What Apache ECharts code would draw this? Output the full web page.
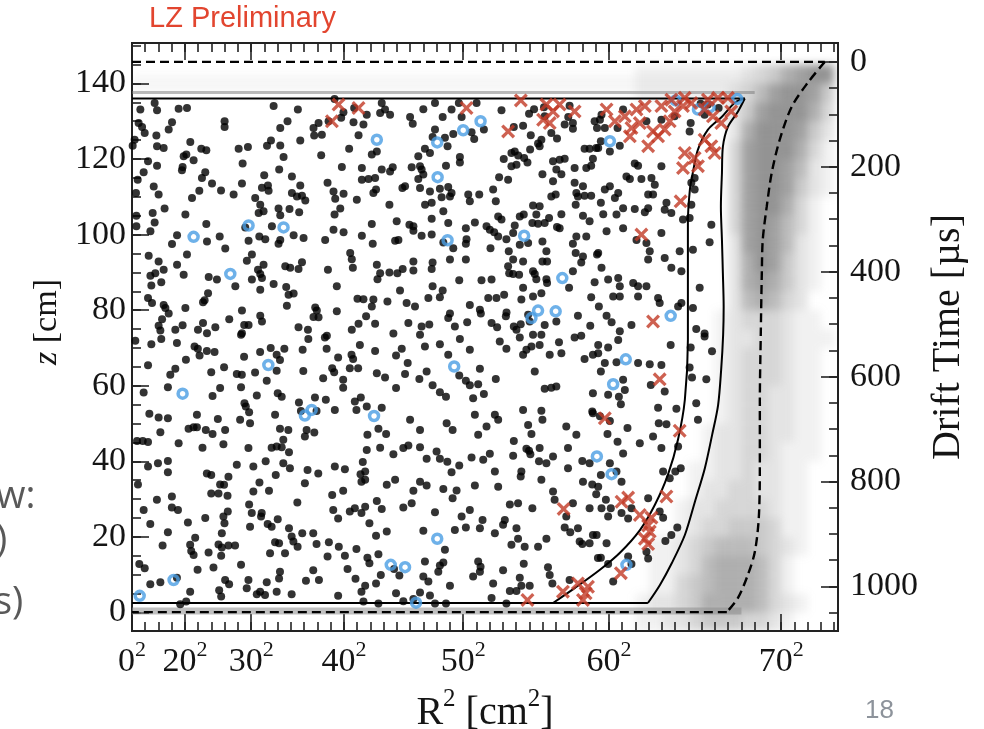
<!DOCTYPE html>
<html>
<head>
<meta charset="utf-8">
<script src="https://cdn.jsdelivr.net/npm/echarts@6/dist/echarts.min.js"></script>
<style>
  html, body { margin: 0; padding: 0; background: #fff; }
  #wrap { position: relative; width: 984px; height: 729px; overflow: hidden; }
  #cloud, #main { position: absolute; left: 0; top: 0; width: 984px; height: 729px; }
  #cloud { filter: blur(4px); clip-path: inset(43px 146px 98px 132px); }
</style>
</head>
<body>
<div id="wrap"><div id="cloud"></div><div id="main"></div></div>
<script>
// ---------- axis ranges and tick labels ----------
const R2_RANGE = [0, 5329];           // R^2 [cm^2], 0 .. 73^2
const Z_RANGE = [-4.9, 150.7];        // z [cm]
const DT_RANGE = [-36, 1085];         // drift time [us], top .. bottom
const r2TickRoots = [0, 20, 30, 40, 50, 60, 70];
const zTickLabels = [0, 20, 40, 60, 80, 100, 120, 140];
const dtTickLabels = [0, 200, 400, 600, 800, 1000];

// ---------- boundary curves [R^2, z] ----------
const solidTop = [[0, 136], [4625, 136]];
const solidOuter = [[4625, 136], [4573, 132.5], [4498, 128.5], [4460, 123.2], [4453, 116.3], [4445, 107.4], [4453, 98.6], [4460, 89.8], [4466, 81.0], [4462, 73.5], [4447, 64.2], [4424, 54.9], [4379, 47.0], [4324, 38.2], [4249, 29.3], [4173, 20.5], [4075, 13.1], [3985, 7.3], [3894, 2.5]];
const solidInner = [[4625, 136], [4550, 134.9], [4453, 131.2], [4346, 127.7], [4271, 122.4], [4233, 116.3], [4211, 111.9], [4196, 103.1], [4196, 89.9], [4196, 72.2], [4173, 56.3], [4121, 45.7], [4045, 36.4], [3947, 28.5], [3834, 21.8], [3683, 15.8], [3532, 11.3], [3344, 6.5], [3178, 2.5]];
const solidBottom = [[3894, 2.5], [0, 2.5]];
const dashedTop = [[0, 145.7], [5229, 145.7]];
const dashedWall = [[5229, 145.7], [5101, 140.2], [4979, 133.8], [4889, 125.1], [4829, 116.4], [4791, 107.4], [4761, 98.6], [4754, 89.9], [4746, 73.5], [4739, 55.7], [4739, 38.3], [4731, 25.0], [4701, 16.0], [4648, 9.9], [4573, 3.8], [4490, 0.1]];
const dashedBottom = [[4490, 0.1], [0, 0.1]];

// dense event bands at the gate and cathode
const gateBand = [[0, 137.6], [4700, 137.6]];
const cathodeBand = [[0, 0.4], [4600, 0.4]];

// ---------- wall event density, rows from z=150 down in 5 cm steps, columns from R^2=3800 in 100 cm^2 steps ----------
const wallR2Start = 3800, wallR2Step = 100, wallZTop = 150, wallZStep = 5;
const wallDensity = [
  "000000000000000",
  "111111112346788",
  "111111123578874",
  "000000124788863",
  "000000026888742",
  "000000037888631",
  "000000037887521",
  "000000037887421",
  "000000037886310",
  "000000037875310",
  "000000027875210",
  "000000026874210",
  "000000026764210",
  "000000025653200",
  "000000123332110",
  "000000122332111",
  "000000123332110",
  "000000123332110",
  "000000123322110",
  "000000123322110",
  "000001223322110",
  "000001223321110",
  "000011223221100",
  "000012233221100",
  "000122333321100",
  "000123344431100",
  "011234555432100",
  "011235666531000",
  "011345666531000",
  "122346666532100",
  "112234443321000"
];

// ---------- events [R^2, z] ----------
const blackUpperLeft = [
[171,134.8],[63,133.1],[189,132.9],[352,133.3],[415,133.5],[1069,134.0],[1252,133.1],[1529,135.9],[1596,132.4],[1677,133.5],
[50,129.5],[76,128.5],[96,126.9],[302,129.7],[277,127.8],[699,130.0],[699,128.5],[1119,128.2],[1174,130.0],[1370,128.2],[1375,126.2],[1408,129.5],[1433,126.4],[1484,130.0],[1579,130.9],[1672,129.7],
[20,125.1],[5,123.5],[184,126.2],[189,123.4],[239,122.9],[440,124.5],[523,122.7],[561,122.3],[805,122.7],[875,123.2],[1019,123.5],[1049,124.9],[1119,123.6],[1270,124.9],[1144,120.5],
[390,120.7],[410,121.2],[382,117.9],[377,117.0],[465,119.7],[121,119.4],[189,118.2],[835,118.8],[1428,121.0],[1639,122.7],[1710,126.3],
[553,116.5],[528,115.0],[604,113.5],[508,111.6],[672,111.7],[767,110.6],[830,113.5],[998,115.7],[1111,117.2],[1207,115.4],[1026,113.0],[981,112.4],[1031,111.6],[1270,113.0],[1476,113.7],[1584,117.9],
[43,114.5],[88,116.5],[164,112.7],[201,110.6],[30,111.0],[246,106.9],[453,109.7],[403,105.3],[930,109.7],[968,107.9],[993,106.2],[956,105.7],
[1207,111.0],[1245,110.1],[1283,110.3],[1308,109.0],[1262,105.9],[1189,106.8],[1106,106.9],[1119,105.1],[1521,111.4],[1534,109.5],[1597,110.8],[1697,109.2],[1529,105.3],[1572,106.9],
[33,105.0],[156,105.7],[171,103.2],[33,102.2],[139,100.9],[561,102.8],[855,101.9],[1056,102.2],[1220,99.8],[1295,99.1],[1119,98.6],[1106,97.6],[1006,98.8],[961,99.5],[880,98.4],[662,99.5],[566,98.2],[340,99.8],[302,97.5],[1458,98.6],[1521,101.3],[1597,100.6],
[126,94.4],[201,92.9],[415,94.7],[704,96.3],[905,94.7],[867,93.1],[1283,92.7],[1157,91.6],[1194,91.2],[1257,90.9],[951,90.7],[968,89.6],[981,88.5],[993,92.0],[1647,95.1],[1659,93.5],[1667,91.2],[1479,90.7],[176,89.8],[239,90.7],[139,89.1],[390,89.4],[340,92.0],[579,88.8],[641,88.1],[905,88.1],[968,85.4],[1069,86.9],[1164,86.1],[1182,84.1],[1220,84.4],[1546,86.3],
[146,86.5],[221,87.4],[121,83.2],[151,81.9],[239,81.4],[252,80.6],[403,80.6],[548,82.6],[536,82.1],[574,84.5],[780,86.3],[830,79.9],[968,78.5],[981,77.0],[1169,81.2],[1383,80.7],[1395,79.9],[1370,78.2],[1408,78.1],[1546,79.7],[1702,83.0],
[227,77.6],[201,75.9],[214,74.6],[277,79.1],[327,74.8],[382,76.0],[498,74.8],[536,76.6],[566,73.9],[629,75.5],[734,77.6],[847,76.1],[880,76.1],[830,73.9],[1257,75.5],[1328,74.8],[1471,73.2],[1659,74.8],[1710,76.4]
];
const blackUpperMid = [
[1885,134.8],[1910,133.1],[1873,132.2],[1948,131.7],[1772,131.7],[1747,129.1],[2199,133.2],[2287,134.8],[2412,133.1],[2467,134.8],[2601,134.8],[2488,131.1],[2345,131.1],[2099,131.1],[2119,129.3],[2563,127.1],[2583,125.3],[2656,127.8],[2287,127.8],[2362,125.6],[2425,126.6],[2382,123.4],[2269,125.8],[2211,122.7],[2249,121.6],[2161,120.7],[2475,120.5],[2475,119.1],[2370,118.2],
[2789,132.9],[2882,128.5],[2952,128.8],[2997,132.0],[3035,133.2],[3110,133.7],[3115,131.3],[3303,134.1],[3293,131.1],[3328,129.5],[3328,128.0],[3266,129.1],[3208,125.4],[3165,126.9],[3010,126.3],[3077,123.4],[3065,124.1],[3090,125.1],[3492,130.0],[3510,128.2],[3416,122.7],[3454,122.7],[3504,122.9],
[3005,122.5],[2889,122.0],[2864,121.6],[2915,120.9],[2960,120.3],[2806,120.0],[2902,118.5],[2864,118.1],[2985,119.1],[3178,119.4],[3228,119.8],[3266,120.1],[3203,117.2],[3241,116.0],[3178,114.1],[3098,116.0],[3341,117.6],[3429,117.6],[3466,118.2],[3479,120.1],
[3341,113.7],[3354,111.0],[3404,112.8],[3416,110.3],[3466,110.3],[3366,110.1],[3349,107.9],[3198,110.6],[3165,110.1],[3241,105.4],[3208,102.0],[3148,104.4],[3115,103.1],[3077,107.5],[3027,107.7],[3052,105.3],[3065,102.9],[3022,103.1],[2957,105.3],[2927,104.8],[2889,102.4],[2877,100.4],[2826,98.8],[2764,104.8],[2789,104.0],
[2771,115.2],[2839,114.5],[2726,111.9],[2746,108.8],[2676,102.2],[2701,101.3],[2734,100.6],[2706,96.4],[2764,99.5],[2538,110.6],[2550,108.8],[2621,110.6],[2588,103.2],[2520,101.7],[2525,98.8],[2520,97.6],
[2400,110.1],[2412,111.0],[2387,112.6],[2324,112.1],[2337,109.9],[2350,106.2],[2262,104.2],[2387,103.1],[2262,108.4],[2212,107.9],[2249,111.4],[2174,112.3],[2161,114.7],[2199,115.9],[2174,118.1],[2186,117.2],[2111,117.8],[2061,112.8],[2041,112.3],[1968,117.8],[1948,116.7],[1885,117.2],[1835,115.0],[1785,114.7],[1842,111.9],[1822,111.0],[1735,117.6],[1735,114.5],[1810,121.2],[1848,122.0],
[1943,107.9],[1810,102.8],[1817,97.6],[1735,99.7],[1998,103.5],[2011,98.6],[1986,98.4],[2094,102.6],[2124,102.2],[2124,101.0],[2186,99.7],[2262,100.0],[2350,97.9],[2425,96.4],
[2520,93.4],[2400,93.4],[2269,92.6],[2262,90.9],[2124,92.9],[2124,90.5],[2043,90.9],[2003,89.8],[1943,90.0],[1873,89.8],[1853,88.2],[1848,92.0],
[1822,82.8],[1810,81.0],[1747,82.9],[1767,78.4],[1835,76.4],[1928,82.3],[1973,73.8],[2023,85.2],[2073,81.9],[2136,81.0],[2086,76.6],[2186,75.7],[2244,76.2],[2174,73.5],[2269,86.3],[2324,83.4],[2345,85.2],[2237,83.2],[2400,79.1],[2387,77.9],[2470,87.9],[2437,75.7],[2530,76.8],[2550,81.4],[2626,80.1],[2633,79.1],[2638,87.9],[2714,88.1],[2689,83.2],[2751,83.2],[2809,84.1],[2827,79.4],[2822,78.4],[2756,75.5],[2714,76.6],[2882,75.7],[2902,74.8],[2934,76.3],[2939,82.8],[2952,85.9],
[2847,89.8],[2877,89.6],[2922,89.4],[3040,89.6],[3027,90.3],[3052,88.2],[3128,88.2],[3133,87.2],[3027,83.6],[3090,84.5],[2990,78.8],[3002,77.0],[3027,73.5],[3090,73.5],[3115,76.1],[3203,77.0],[3299,85.9],[3366,78.5],[3391,73.2],[3459,75.9],[3466,83.4],[3492,87.4],[3524,81.0],[3328,90.3],[3391,92.6],[3404,94.2],[3349,95.1],[3354,99.5],[3228,101.7],[3429,99.5],[3328,97.6],[3510,94.7],[3454,103.5],[3404,105.0],
[2952,92.9],[2877,93.4],[2844,95.6],[2839,91.6],[3098,92.9],[3133,92.9],[2927,97.3],[2990,97.8],[3098,98.2],[3128,95.6]
];
const blackUpperRight = [
[3707,133.1],[3544,131.7],[3532,130.4],[3569,128.2],[3665,128.2],[3996,130.4],[4096,131.3],[3883,130.0],[4209,127.3],[4292,134.6],[4347,134.4],[4428,133.5],[4322,131.7],[4217,129.5],
[3539,124.7],[3519,122.9],[3607,122.0],[3682,123.5],[3795,118.8],[3820,118.2],[3996,118.1],[3732,115.4],[3758,114.7],[3845,114.7],[3921,115.0],[3946,113.2],[3933,110.6],[3896,110.6],[3607,112.8],[3569,111.9],[3670,111.0],[3645,109.7],[3539,108.4],[3707,107.0],[3557,105.4],[3657,105.3],[3795,106.8],[3871,105.9],[3896,107.0],[4034,108.4],[4021,106.6],[4071,105.7],[4222,107.9],[4159,104.0],[4209,104.4],[4247,115.0],[4222,113.7],[4247,111.9],
[3582,100.9],[3707,101.7],[3808,98.6],[3883,97.8],[3996,100.4],[3908,95.6],[3896,93.4],[4021,93.8],[4134,95.6],[4071,91.2],[4147,90.3],[4234,96.0],[4373,102.6],[4360,98.0],[3519,95.1],[3544,91.2],[3594,88.1],[3670,88.5],[3682,86.3],[3632,83.6],[3682,83.6],[3783,87.2],[3820,86.3],[3883,86.3],[3820,83.6],[3971,83.2],[3983,81.9],[4122,81.0],[4147,81.9],[4285,85.9],[4234,80.6],[4259,75.0],[4322,73.8],[3582,78.5],[3620,76.8],[3770,76.1],[3682,74.4]
];
const blackLowerLeft = [
[25,71.9],[146,71.0],[221,72.4],[339,71.3],[472,70.4],[497,69.8],[510,68.0],[565,69.2],[623,68.9],[407,66.9],[327,64.5],[289,62.9],[271,59.6],[121,65.4],[88,58.2],[598,63.6],[695,64.9],[608,57.3],[665,59.4],[791,63.1],[829,62.9],[823,59.6],[846,67.7],[929,63.5],[967,68.9],[1047,70.0],[1092,68.2],[1117,66.8],[1150,69.8],[1092,64.0],[1017,61.3],[942,57.4],[849,55.4],[859,54.5],[884,53.0],[816,51.0],[891,50.1],[1100,58.0],[1130,57.1],[1080,52.3],[823,73.5],
[1288,69.5],[1293,63.9],[1331,72.4],[1469,69.8],[1556,67.5],[1456,72.8],[1657,68.2],[1669,67.1],[1720,70.8],[1644,64.6],[1707,64.6],[1511,64.6],[1526,63.6],[1594,61.6],[1594,59.5],[1443,62.0],[1463,56.3],[1381,56.9],[1260,55.6],[1275,53.3],[1393,53.3],[1318,48.3],[1376,47.6],[1305,46.6],[1531,53.6],[1682,55.8],[1694,53.6],[1727,56.9],
[1117,48.6],[1180,48.3],[1054,43.6],[1092,43.9],[1130,43.7],[1185,42.4],[1142,45.7],[201,51.6],[271,51.4],[131,52.6],[214,47.7],[38,45.4],[81,45.4],[121,45.1],[352,44.8],[427,48.6],[465,49.0],[490,49.0],[490,52.3],[557,48.3],[608,47.2],[648,51.2],[703,48.3],[690,44.5],[532,43.6],[879,43.5],
[791,39.1],[916,38.6],[1009,40.0],[1142,39.5],[1192,38.2],[1085,36.4],[962,34.4],[916,32.0],[1034,32.2],[1305,34.2],[1325,37.7],[1406,36.8],[1531,38.6],[1607,37.9],[1594,32.2],[1511,31.1],[1725,36.6],[1732,34.6],[1682,27.6],[1644,26.7],[1519,27.1],[1556,24.9],[1732,26.3],
[271,40.1],[196,39.5],[271,37.1],[121,38.6],[45,33.9],[188,29.8],[301,30.7],[301,27.8],[347,27.1],[88,27.1],[138,23.4],[271,21.2],[231,17.7],[55,12.8],[96,11.7],[138,7.5],[214,8.0],[339,9.2],[439,5.5],[364,2.2],[495,11.3],[477,19.8],[439,17.9],[447,16.3],[465,15.2],[422,23.8],[553,25.0],[598,31.5],[653,31.5],[665,33.9],[728,35.9],[721,30.9],[598,36.4],[565,36.8],[695,33.8],
[578,15.9],[673,15.0],[678,17.2],[653,18.0],[678,21.0],[698,23.6],[723,26.7],[690,25.4],[728,17.7],[778,17.7],[703,8.6],[658,5.9],[673,4.2],[615,11.9],[733,7.5],[823,12.6],[879,8.6],[866,6.4],[884,28.6],[904,26.3],[891,22.7],[979,26.3],[974,25.4],[1024,23.4],[1054,22.7],[1100,24.7],[1042,15.7],[1080,18.6],[1110,18.3],[1155,15.7],[1185,22.3],[1205,20.1],[1218,18.8],[1250,17.4],[1248,29.1],[1285,21.0],[1368,21.0],[1393,18.1],[1486,18.6],[1476,14.8],[1561,17.4],[1607,15.0],[1627,11.5],[1694,16.8],[1687,8.9],[1732,5.5],[1556,4.4],[1411,8.6],[1368,11.2],[1313,8.4],[1117,10.8],[1110,9.0],[1017,8.0],[1092,5.5],[1004,4.6],[967,5.5],[942,4.8],[1205,4.8],[409,2.9]
];
const blackLowerMid = [
[1835,69.2],[1993,68.0],[2036,69.8],[2081,66.0],[1848,63.3],[1910,62.2],[1993,59.4],[2061,63.1],[2169,61.8],[2211,70.4],[2269,60.1],[2324,71.0],[2387,68.2],[2224,63.8],[2324,58.3],[2370,57.1],[2475,72.4],[2470,62.7],[2520,61.3],[2550,60.1],[2613,60.4],[2626,64.5],[2550,69.5],[2656,57.8],[2575,56.7],[2746,61.8],[2776,71.7],[2826,69.8],[2927,72.8],[2952,68.2],[2977,69.5],[3015,70.4],[3077,70.8],[3153,68.2],[3223,71.5],[3241,68.6],[3341,72.8],[3416,67.1],[3479,68.2],
[3040,63.8],[3115,59.2],[3165,59.5],[3203,59.8],[3479,58.0],[3474,53.2],[2952,53.6],[3090,53.4],[2990,49.6],[3015,47.2],[3098,51.0],[3278,49.2],[3354,47.0],[3479,52.7],[2882,45.4],[2877,41.5],[2977,43.3],[2997,42.8],[3007,41.9],[3077,43.5],[3072,40.0],[3128,39.5],[3178,41.3],[3291,43.5],[3291,38.2],[3090,35.1],[2939,37.3],[2934,36.0],[3399,40.1],[3454,39.5],[3474,33.9],[3404,34.6],[3178,32.0],[3190,29.8],[3328,28.9],
[3366,22.3],[3379,18.8],[3399,18.1],[3454,18.3],[3479,20.5],[3517,14.4],[3454,27.6],[3504,31.3],[3278,25.4],[3266,22.5],[3308,21.2],[3128,19.5],[3065,17.4],[2964,17.4],[2914,19.5],[2864,17.9],[2902,22.3],[2801,23.2],[2814,24.5],[2852,28.6],[2914,28.9],[3022,27.6],[2739,21.0],[2646,24.5],[2626,22.3],[2550,27.1],[2488,25.4],[2520,22.5],[2437,21.8],[2287,26.5],[2199,21.6],[2362,16.6],[2324,12.4],[2350,13.2],[2312,10.8],[2199,9.5],[2237,8.2],[2174,5.3],[2249,4.5],[2400,7.1],[2370,2.4],[2287,2.4],[2124,3.6],[2048,3.0],[1993,5.1],[2018,9.8],[1978,11.5],[1860,15.4],[1777,14.5],[1792,13.0],[1878,9.9],[1760,7.1],[1842,7.7],[1860,2.4],[1747,2.9],
[2575,9.5],[2613,13.5],[2631,12.1],[2626,10.8],[2726,7.7],[2714,3.8],[2801,11.2],[2852,5.7],[2902,5.7],[2939,7.1],[2957,12.9],[2927,9.2],[3002,7.1],[2826,2.4],[3153,9.9],[3140,12.0],[3173,7.7],[3303,8.6],
[1772,43.0],[1873,43.6],[1918,47.2],[1973,41.9],[2048,43.5],[2086,44.2],[2174,43.7],[2224,40.7],[2299,42.6],[2324,40.7],[2380,39.9],[2412,37.1],[2470,38.9],[2563,41.0],[2651,40.4],[2701,42.0],[2739,37.3],[2764,33.3],[2588,33.6],[2450,32.3],[2420,30.2],[2350,32.7],[2224,33.6],[2174,34.6],[2124,32.2],[2111,28.9],[2048,27.8],[1885,27.4],[1848,29.5],[1760,28.0],[1986,35.1],[1923,33.8],[1760,35.1],[1792,23.6],[1842,20.3],[1923,21.4],[2211,13.5],[1760,37.3],[1742,39.8],[1777,47.0],[1860,48.6],[1772,54.5],[1885,54.2],[2099,51.0],[2174,48.3],[2375,50.1],[2420,48.3],[2588,52.3],[2739,52.3],[2764,51.0],[2676,49.2],[2613,47.0]
];
const blackLowerRight = [
[3670,72.1],[3594,70.1],[3519,70.8],[3519,68.6],[3569,66.0],[3539,63.8],[3657,66.2],[3820,66.0],[3908,65.7],[3996,65.5],[4066,70.8],[4217,70.1],[4209,64.8],[4227,62.2],[4335,61.7],[4378,69.1],[4322,73.0],[3707,61.6],[3720,58.9],[3916,60.2],[4021,58.5],[3971,54.2],[4109,53.9],[4259,55.4],[4272,51.0],[3675,57.1],[3690,55.1],[3594,57.6],[3532,51.9],[3607,50.7],[3589,47.2],[3665,45.2],[3740,48.8],[3833,44.8],[3933,46.6],[3976,50.1],[4034,49.8],[3707,42.1],[3996,43.5],[4122,43.9],[4101,37.3],[4142,38.2],[4009,37.3],[4059,35.5],[3607,39.5],[3657,37.3],[3695,34.6],[3539,36.4],[3519,33.3],[3544,27.6],[3594,25.4],[3614,27.6],[3577,29.8],[3695,26.3],[3745,24.9],[3507,20.5],[3582,18.3],[3770,27.6],[3896,30.2],[3983,26.7],[4009,25.1],[4116,22.5],[4026,18.9],[3883,16.1],[3896,14.3],[3745,14.8],[3770,12.8],[3594,12.8],[3539,14.5],[3632,8.2],[4071,20.5]
];
const blueEvents = [
[465,99.4],[880,102.4],[1144,101.9],[742,89.6],
[1848,125.1],[2304,124.4],[2500,127.6],[2631,130.0],[2307,115.2],[2382,98.5],[2960,99.7],[3248,88.5],[3065,79.9],[3015,77.9],[3198,79.7],
[4104,135.5],[4272,133.1],[4360,133.7],[4568,135.9],[3607,124.7],[4066,78.5],
[1029,65.5],[382,57.9],[1305,52.1],[1356,53.6],[314,8.6],[58,4.4],
[2432,65.1],[1827,52.0],[2304,19.5],[1953,12.6],[2061,12.0],[2144,2.6],[3509,41.3],
[3727,67.0],[3632,60.4],[3620,36.6],[3732,12.6]
];
const redEvents = [
[1559,134.4],[1710,133.5],[1509,130.0],
[2525,133.5],[2935,135.5],[2839,127.3],[3128,134.4],[3178,132.6],[3228,134.4],[3103,130.4],[3153,129.5],[3341,132.6],
[3582,133.1],[3645,130.0],[3770,128.2],[3720,131.3],[3808,133.1],[3871,134.0],[3758,126.0],[3833,129.5],[3896,123.4],[3971,126.0],[4021,127.8],[3996,134.0],[4071,135.7],[4096,132.6],[4059,130.0],[4172,136.2],[4222,134.8],[4159,134.0],[4347,135.7],[4423,136.2],[4498,136.2],[4385,131.3],[4448,129.5],[4523,132.6],[4322,133.1],[4172,121.6],[4247,120.3],[4272,118.1],[4322,125.1],[4373,123.4],[4398,121.6],[4159,117.6],[4141,108.8],[3845,100.0],[3933,77.0],[3933,127.3],
[3258,27.4],[2985,3.3],[3253,5.5],[3366,7.7],[3424,5.1],[3404,3.3],[3442,6.8],
[3983,61.7],[3569,51.4],[4134,48.1],[3745,30.4],[3695,29.3],[4034,30.7],[3833,25.8],[3921,25.1],[3896,23.0],[3908,21.4],[3871,19.5],[3896,18.1],[3690,10.4]
];

const blackEvents = [].concat(blackUpperLeft, blackUpperMid, blackUpperRight, blackLowerLeft, blackLowerMid, blackLowerRight);

// ---------- tick positions ----------
const r2Major = r2TickRoots.map(r => r * r);
const r2Minor = [];
for (let v = 100; v < R2_RANGE[1]; v += 100) r2Minor.push(v);
const zMinor = [];
for (let v = 0; v <= 150; v += 5) zMinor.push(v);
const dtMinor = [];
for (let v = 0; v <= 1050; v += 50) dtMinor.push(v);

// ---------- shared styling ----------
const SERIF = '"Liberation Serif", "Times New Roman", serif';
const INK = '#151515';
const gridBox = { left: 132, right: 146, top: 43, bottom: 98, outerBoundsMode: 'none', containLabel: false };
const tickLine = { color: '#222', width: 1.6 };
const MINOR_LEN = 9, MAJOR_LEN = 17;
const labelFont = { fontFamily: SERIF, fontSize: 34, color: INK };

function xAxisDef(position, ticks, len, label, extra) {
  return Object.assign({
    type: 'value', min: R2_RANGE[0], max: R2_RANGE[1], position,
    axisLine: { show: false, onZero: false }, splitLine: { show: false },
    axisTick: { show: true, inside: true, length: len, lineStyle: tickLine, customValues: ticks },
    axisLabel: label || { show: false }
  }, extra || {});
}
function yAxisDef(range, position, ticks, len, label, extra) {
  return Object.assign({
    type: 'value', min: range[0], max: range[1], position,
    axisLine: { show: false, onZero: false }, splitLine: { show: false },
    axisTick: { show: true, inside: true, length: len, lineStyle: tickLine, customValues: ticks },
    axisLabel: label || { show: false }
  }, extra || {});
}

function curve(data, style, smooth) {
  return {
    type: 'line', data, xAxisIndex: 0, yAxisIndex: 0, symbol: 'none', silent: true,
    smooth: smooth || false, lineStyle: style, z: 3
  };
}

const solidStyle = { color: '#000', width: 2 };
const dashStyle = { color: '#000', width: 2.4, type: [9, 5] };
const crossPath = 'path://M0,2L2,0L6,4L10,0L12,2L8,6L12,10L10,12L6,8L2,12L0,10L4,6Z';

// ---------- diffuse wall population (drawn underneath) ----------
const cloudCells = [];
wallDensity.forEach((row, i) => {
  for (let j = 0; j < row.length; j++) {
    const d = +row[j];
    if (d > 0) cloudCells.push([wallR2Start + (j + 0.5) * wallR2Step, wallZTop - (i + 0.5) * wallZStep, d]);
  }
});

const cloudChart = echarts.init(document.getElementById('cloud'), null, { renderer: 'canvas' });
cloudChart.setOption({
  animation: false,
  grid: gridBox,
  xAxis: { type: 'value', min: R2_RANGE[0], max: R2_RANGE[1], show: false },
  yAxis: { type: 'value', min: Z_RANGE[0], max: Z_RANGE[1], show: false },
  series: [
    {
      type: 'line', data: [[0, 140], [4700, 140]], symbol: 'none', silent: true,
      lineStyle: { color: 'rgba(150,150,150,0.09)', width: 18 }
    },
    {
      type: 'custom', data: cloudCells, clip: true, silent: true,
      renderItem(params, api) {
        const r2 = api.value(0), z = api.value(1), d = api.value(2);
        const a = api.coord([r2 - wallR2Step / 2, z + wallZStep / 2]);
        const b = api.coord([r2 + wallR2Step / 2, z - wallZStep / 2]);
        return {
          type: 'rect',
          shape: { x: a[0], y: a[1], width: b[0] - a[0], height: b[1] - a[1] },
          style: { fill: 'rgba(120,120,120,' + (d / 9 * 0.9).toFixed(3) + ')' }
        };
      }
    }
  ]
});

// ---------- main chart ----------
const chart = echarts.init(document.getElementById('main'), null, { renderer: 'canvas' });
chart.setOption({
  animation: false,
  backgroundColor: 'transparent',
  grid: Object.assign({ show: true, borderColor: '#222', borderWidth: 2, backgroundColor: 'transparent' }, gridBox),
  xAxis: [
    xAxisDef('bottom', r2Minor, MINOR_LEN),
    xAxisDef('bottom', r2Major, MAJOR_LEN,
      { show: true, customValues: r2Major, margin: 8,
        formatter: v => '{b|' + Math.round(Math.sqrt(v)) + '}{s|2}',
        rich: {
          b: { fontFamily: SERIF, fontSize: 34, color: INK, lineHeight: 40, verticalAlign: 'bottom' },
          s: { fontFamily: SERIF, fontSize: 22, color: INK, lineHeight: 12, verticalAlign: 'top' }
        } },
      { name: '{t|R}{s|2}{t| [cm}{s|2}{t|]}', nameLocation: 'middle', nameGap: 56,
        nameTextStyle: { rich: {
          t: { fontFamily: SERIF, fontSize: 40, color: INK, lineHeight: 46, verticalAlign: 'bottom' },
          s: { fontFamily: SERIF, fontSize: 25, color: INK, lineHeight: 14, verticalAlign: 'top' }
        } } }),
    xAxisDef('top', r2Minor, MINOR_LEN),
    xAxisDef('top', r2Major, MAJOR_LEN)
  ],
  yAxis: [
    yAxisDef(Z_RANGE, 'left', zMinor, MINOR_LEN),
    yAxisDef(Z_RANGE, 'left', zTickLabels, MAJOR_LEN,
      Object.assign({ show: true, customValues: zTickLabels, margin: 6, formatter: v => String(v) }, labelFont),
      { name: '{i|z} [cm]', nameLocation: 'middle', nameGap: 64, nameRotate: 90,
        nameTextStyle: { fontFamily: SERIF, fontSize: 34, color: INK, padding: [0, 0, 0, 30],
          rich: { i: { fontFamily: SERIF, fontSize: 34, fontStyle: 'italic', color: INK } } } }),
    yAxisDef(DT_RANGE, 'right', dtMinor, MINOR_LEN, null, { inverse: true }),
    yAxisDef(DT_RANGE, 'right', dtTickLabels, MAJOR_LEN,
      Object.assign({ show: true, customValues: dtTickLabels, margin: 12, formatter: v => String(v) }, labelFont),
      { inverse: true, name: 'Drift Time [µs]', nameLocation: 'middle', nameGap: 86, nameRotate: 90,
        nameTextStyle: { fontFamily: SERIF, fontSize: 40, color: INK } })
  ],
  graphic: [
    { type: 'text', left: 149, top: 4, silent: true,
      style: { text: 'LZ Preliminary', font: '29px "Liberation Sans", Arial, sans-serif', fill: '#e2452f' } },
    { type: 'text', left: -4, top: 478, silent: true,
      style: { text: 'w:', font: '38px "Open Sans", "Liberation Sans", sans-serif', fill: '#595959' } },
    { type: 'text', left: -4, top: 522, silent: true,
      style: { text: ')', font: '38px "Open Sans", "Liberation Sans", sans-serif', fill: '#595959' } },
    { type: 'text', left: -6, top: 584, silent: true,
      style: { text: 's)', font: '38px "Open Sans", "Liberation Sans", sans-serif', fill: '#595959' } },
    { type: 'text', left: 865, top: 698, silent: true,
      style: { text: '18', font: '26px "Liberation Sans", Arial, sans-serif', fill: '#8d939b' } }
  ],
  series: [
    curve(gateBand, { color: 'rgba(120,120,120,0.5)', width: 3 }),
    curve(cathodeBand, { color: 'rgba(140,140,140,0.55)', width: 7 }),
    curve(solidTop, solidStyle),
    curve(solidOuter, solidStyle, 0.3),
    curve(solidInner, solidStyle, 0.3),
    curve(solidBottom, solidStyle),
    curve(dashedTop, dashStyle),
    curve(dashedWall, dashStyle, 0.3),
    curve(dashedBottom, dashStyle),
    {
      type: 'scatter', data: blackEvents, symbol: 'circle', symbolSize: 8, silent: true, z: 4,
      itemStyle: { color: '#000' }
    },
    {
      type: 'scatter', data: blueEvents, symbol: 'circle', symbolSize: 9, silent: true, z: 5,
      itemStyle: { color: 'rgba(255,255,255,0)', borderColor: '#4a9de3', borderWidth: 3.5 }
    },
    {
      type: 'scatter', data: redEvents, symbol: crossPath, symbolSize: 14, silent: true, z: 6,
      itemStyle: { color: '#c23a25' }
    }
  ]
});
</script>
</body>
</html>
